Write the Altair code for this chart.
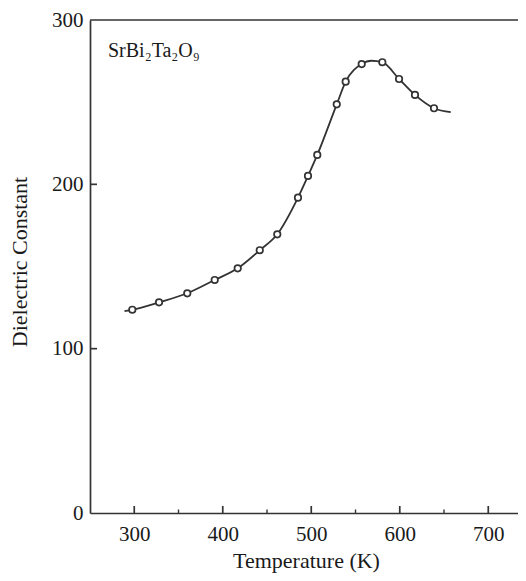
import altair as alt
import pandas as pd

# measured points (open circles)
temp_pts = [297.8, 328.0, 359.9, 390.9, 416.9, 441.8, 461.6, 485.0, 496.3,
            506.8, 528.8, 538.9, 557.0, 580.3, 599.2, 617.2, 638.7]
eps_pts = [123.7, 128.2, 133.7, 141.8, 148.9, 159.9, 169.6, 191.9, 205.1,
           217.9, 248.7, 262.5, 273.2, 274.3, 264.1, 254.4, 246.3]

# smooth guide curve drawn through the data
temp_curve = [289.0, 297.8, 328.0, 359.9, 390.9, 416.9, 441.8, 461.6, 485.0, 496.3,
              506.8, 528.8, 538.9, 557.0, 568.0, 580.3, 599.2, 617.2, 638.7, 657.6]
eps_curve = [122.8, 123.7, 128.2, 133.7, 141.8, 148.9, 159.9, 169.6, 191.9, 205.1,
             217.9, 248.7, 262.5, 273.2, 275.2, 274.3, 264.1, 254.4, 246.3, 243.9]

x_major = [300, 400, 500, 600, 700]
x_minor = [350, 450, 550, 650]
y_major = [100, 200]
y_labels = [0, 100, 200, 300]

W, H = 428, 493
FONT = "Liberation Serif"
INK = "#333333"
TXT = "#1a1a1a"

xscale = alt.Scale(domain=[250, 733.6], nice=False, zero=False)
yscale = alt.Scale(domain=[0, 300], nice=False, zero=False)

x_axis = alt.Axis(
    values=x_major, ticks=False, tickSize=0, labelPadding=10,
    labelFont=FONT, labelFontSize=21, labelColor=TXT, labelFlush=False,
    domainColor=INK, domainWidth=1.7, grid=False,
    title="Temperature (K)", titleFont=FONT, titleFontSize=22,
    titleFontWeight="normal", titleColor=TXT, titleX=216, titleY=54,
    titleAlign="center", titleBaseline="alphabetic")
y_axis = alt.Axis(
    values=y_labels, ticks=False, tickSize=0, labelPadding=7,
    labelFont=FONT, labelFontSize=21, labelColor=TXT, labelFlush=False,
    domainColor=INK, domainWidth=1.7, grid=False,
    title="Dielectric Constant", titleFont=FONT, titleFontSize=22,
    titleFontWeight="normal", titleColor=TXT, titleAngle=270,
    titleX=-64, titleY=241.5, titleAlign="center",
    titleBaseline="alphabetic")

curve_df = pd.DataFrame({"T": temp_curve, "eps": eps_curve})
pts_df = pd.DataFrame({"T": temp_pts, "eps": eps_pts})

line = alt.Chart(curve_df).mark_line(
    color=INK, strokeWidth=1.8, interpolate="monotone"
).encode(
    x=alt.X("T:Q", scale=xscale, axis=x_axis),
    y=alt.Y("eps:Q", scale=yscale, axis=y_axis),
)

points = alt.Chart(pts_df).mark_point(
    shape="circle", size=42, filled=False, fill="white", fillOpacity=1,
    stroke=INK, strokeWidth=1.7, opacity=1
).encode(
    x=alt.X("T:Q", scale=xscale),
    y=alt.Y("eps:Q", scale=yscale),
)

xt_major = alt.Chart(pd.DataFrame({"T": x_major})).mark_tick(
    size=7, thickness=1.7, color=INK, opacity=1
).encode(x=alt.X("T:Q", scale=xscale), y=alt.value(H - 3.5))

xt_minor = alt.Chart(pd.DataFrame({"T": x_minor})).mark_tick(
    size=3.5, thickness=1.4, color=INK, opacity=1
).encode(x=alt.X("T:Q", scale=xscale), y=alt.value(H - 1.75))

yt_major = alt.Chart(pd.DataFrame({"eps": y_major})).mark_tick(
    size=7, thickness=1.7, color=INK, opacity=1
).encode(y=alt.Y("eps:Q", scale=yscale), x=alt.value(3.5))

top_rule = alt.Chart(pd.DataFrame({"a": [0]})).mark_rule(
    color=INK, strokeWidth=1.7
).encode(x=alt.value(0), x2=alt.value(W), y=alt.value(0))

label = alt.Chart(pd.DataFrame({"a": [0]})).mark_text(
    text="SrBi₂Ta₂O₉", font=FONT, fontSize=20, color=TXT,
    align="left", baseline="alphabetic"
).encode(x=alt.value(18), y=alt.value(37))

chart = alt.layer(line, points, xt_minor, xt_major, yt_major, top_rule, label).properties(
    width=W, height=H,
    background="white",
    autosize=alt.AutoSizeParams(type="none"),
    padding={"left": 82, "top": 12, "right": 0, "bottom": 60},
).configure_view(stroke=None)

chart.save("out.html", embed_options={"renderer": "svg", "actions": False})
